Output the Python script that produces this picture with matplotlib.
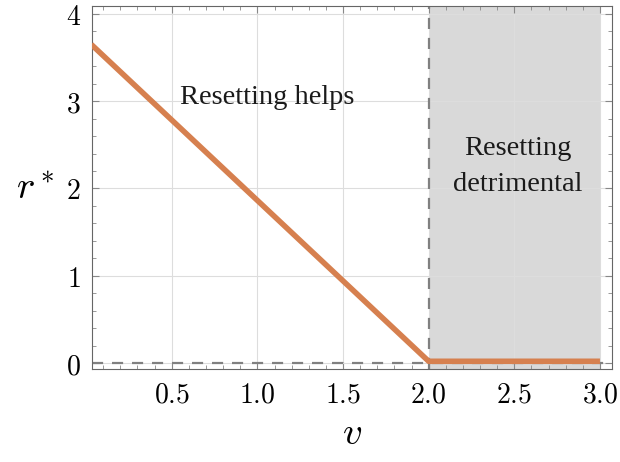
import matplotlib.pyplot as plt
import numpy as np
from matplotlib.ticker import MultipleLocator

# datos
v_vals = [0.03, 2.0, 3.0]
r_vals = [3.65, 0.02, 0.02]
x_ticks = [0.5, 1.0, 1.5, 2.0, 2.5, 3.0]
y_ticks = [0, 1, 2, 3, 4]
v_crit = 2.0
v_max = 3.0

plt.rcParams['mathtext.fontset'] = 'cm'

fig = plt.figure(figsize=(6.2, 4.62), dpi=100)
ax = fig.add_axes([0.148, 0.201, 0.839, 0.786])

ax.axvspan(v_crit, v_max, color="#d9d9d9", zorder=0, lw=0)
ax.axhline(0, color="#808080", ls=(0, (5, 4)), lw=1.6, zorder=2)
ax.axvline(v_crit, color="#808080", ls=(0, (5, 4)), lw=1.6, zorder=2)
ax.plot(v_vals, r_vals, color="#d6804f", lw=4, solid_capstyle="butt", zorder=3)

ax.set_xlim(0.033, 3.07)
ax.set_ylim(-0.07, 4.09)
ax.set_xticks(x_ticks)
ax.set_yticks(y_ticks)
ax.set_xticklabels([f"${t:.1f}$" for t in x_ticks])
ax.set_yticklabels([f"${t}$" for t in y_ticks])
ax.xaxis.set_minor_locator(MultipleLocator(0.1))
ax.yaxis.set_minor_locator(MultipleLocator(0.2))
ax.tick_params(which="both", direction="in", top=True, right=True, color="#888888",
               labelsize=20, pad=8)
ax.tick_params(which="major", length=5)
ax.tick_params(which="minor", length=3)
ax.grid(True, which="major", color="#dddddd", lw=0.8, zorder=1)
for s in ax.spines.values():
    s.set_color("#666666")

ax.set_xlabel("$v$", fontsize=28, labelpad=4)
ax.set_ylabel("$r^*$", fontsize=28, rotation=0, labelpad=22, va="center")

ax.text(1.06, 3.04, "Resetting helps", family="Liberation Serif", fontsize=20.5,
        ha="center", va="center", color="#1a1a1a")
ax.text(2.52, 2.25, "Resetting\ndetrimental", family="Liberation Serif", fontsize=20.5,
        ha="center", va="center", color="#1a1a1a", linespacing=1.6)

fig.savefig("out.png", dpi=100)
